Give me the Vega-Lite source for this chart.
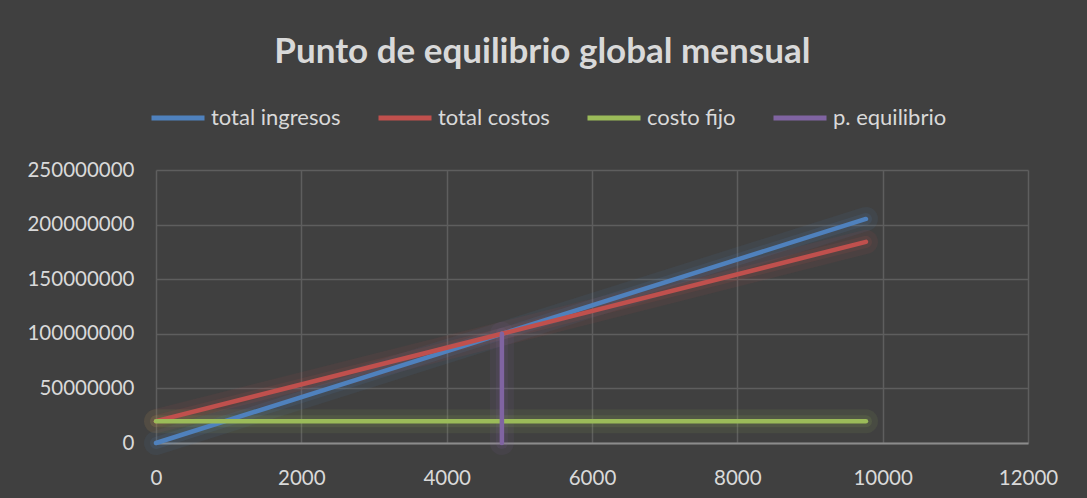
{
  "$schema": "https://vega.github.io/schema/vega-lite/v6.json",
  "autosize": "none",
  "width": 872,
  "height": 273,
  "padding": {"left": 156, "top": 170, "right": 59, "bottom": 55},
  "background": "#404040",
  "title": {
    "text": "Punto de equilibrio global mensual",
    "font": "Lato",
    "fontSize": 35,
    "fontWeight": "bold",
    "color": "#d9d9d9",
    "anchor": "middle",
    "frame": "bounds",
    "offset": 19
  },
  "data": {
    "values": [
      {"serie": "total ingresos", "i": 0, "unidades": 0, "valor": 0},
      {"serie": "total ingresos", "i": 1, "unidades": 4760, "valor": 99960000},
      {"serie": "total ingresos", "i": 2, "unidades": 9770, "valor": 205170000},
      {"serie": "total costos", "i": 0, "unidades": 0, "valor": 20000000},
      {"serie": "total costos", "i": 1, "unidades": 4760, "valor": 100000000},
      {"serie": "total costos", "i": 2, "unidades": 9770, "valor": 184200000},
      {"serie": "costo fijo", "i": 0, "unidades": 0, "valor": 20000000},
      {"serie": "costo fijo", "i": 1, "unidades": 4760, "valor": 20000000},
      {"serie": "costo fijo", "i": 2, "unidades": 9770, "valor": 20000000},
      {"serie": "p. equilibrio", "i": 0, "unidades": 4760, "valor": 0},
      {"serie": "p. equilibrio", "i": 1, "unidades": 4760, "valor": 100000000}
    ]
  },
  "encoding": {
    "x": {
      "field": "unidades",
      "type": "quantitative",
      "scale": {"domain": [0, 12000], "nice": false},
      "axis": {
        "values": [0, 2000, 4000, 6000, 8000, 10000, 12000],
        "format": "d",
        "title": null,
        "labelFont": "Lato",
        "labelFontSize": 20.5,
        "labelColor": "#d9d9d9",
        "labelPadding": 25,
        "ticks": false,
        "domain": true,
        "domainColor": "#8c8c8c",
        "domainWidth": 2,
        "grid": true,
        "gridColor": "#5e5e5e",
        "gridWidth": 1.5,
        "labelFlush": false
      }
    },
    "y": {
      "field": "valor",
      "type": "quantitative",
      "scale": {"domain": [0, 250000000], "nice": false},
      "axis": {
        "values": [0, 50000000, 100000000, 150000000, 200000000, 250000000],
        "format": "d",
        "title": null,
        "labelFont": "Lato",
        "labelFontSize": 20.5,
        "labelColor": "#d9d9d9",
        "labelPadding": 22,
        "ticks": false,
        "domain": false,
        "grid": true,
        "gridColor": "#5e5e5e",
        "gridWidth": 1.5,
        "labelFlush": false
      }
    },
    "color": {
      "field": "serie",
      "type": "nominal",
      "scale": {
        "domain": ["total ingresos", "total costos", "costo fijo", "p. equilibrio"],
        "range": ["#4f81bd", "#c0504d", "#9bbb59", "#8064a2"]
      },
      "legend": {
        "title": null,
        "orient": "none",
        "direction": "horizontal",
        "legendX": -7,
        "legendY": -81,
        "symbolType": "stroke",
        "symbolSize": 2809,
        "symbolStrokeWidth": 5,
        "symbolOpacity": 1,
        "labelFont": "Lato",
        "labelFontSize": 22,
        "labelColor": "#d9d9d9",
        "labelOffset": 4,
        "columnPadding": 27
      }
    },
    "order": {"field": "i", "type": "quantitative"}
  },
  "layer": [
    {
      "mark": {"type": "line", "strokeWidth": 24, "opacity": 0.09, "strokeCap": "round"}
    },
    {
      "mark": {"type": "line", "strokeWidth": 12, "opacity": 0.12, "strokeCap": "round"}
    },
    {
      "mark": {"type": "line", "strokeWidth": 4.5, "strokeCap": "round"}
    }
  ],
  "config": {
    "view": {"stroke": null}
  }
}
